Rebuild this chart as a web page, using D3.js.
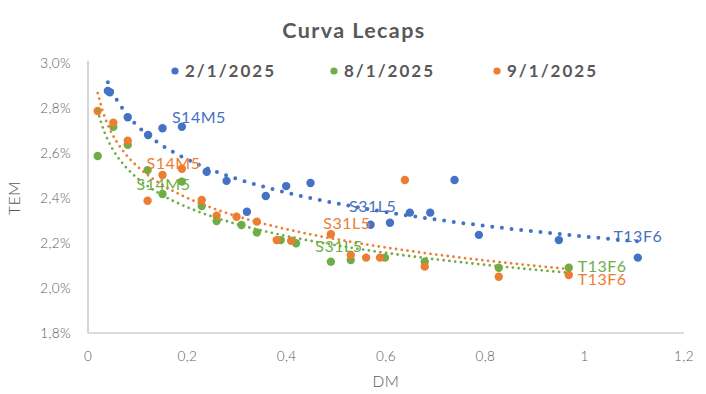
<!DOCTYPE html>
<html>
<head>
<meta charset="utf-8">
<script src="https://cdn.jsdelivr.net/npm/d3@7"></script>
<style>
  body { margin: 0; background: #fff; }
  svg { font-family: Lato, "Open Sans", sans-serif; }
</style>
</head>
<body>
<svg id="drawing_region" width="706" height="394"></svg>
<script>
// DM (x) and TEM in % (y) per fecha
const seriesNames = ["2/1/2025", "8/1/2025", "9/1/2025"];

const dm_0201 = [0.040, 0.044, 0.080, 0.121, 0.150, 0.189, 0.239, 0.279, 0.320, 0.358, 0.399, 0.448, 0.569, 0.608, 0.648, 0.689, 0.738, 0.787, 0.948, 1.107];
const tem_0201 = [2.876, 2.870, 2.759, 2.680, 2.710, 2.717, 2.517, 2.476, 2.339, 2.409, 2.453, 2.467, 2.281, 2.290, 2.335, 2.335, 2.480, 2.236, 2.213, 2.135];

const dm_0801 = [0.0195, 0.051, 0.080, 0.120, 0.150, 0.189, 0.229, 0.259, 0.309, 0.340, 0.388, 0.419, 0.489, 0.529, 0.598, 0.678, 0.827, 0.968];
const tem_0801 = [2.587, 2.717, 2.636, 2.524, 2.418, 2.473, 2.364, 2.298, 2.280, 2.247, 2.213, 2.199, 2.117, 2.124, 2.135, 2.117, 2.090, 2.090];

const dm_0901 = [0.0195, 0.051, 0.080, 0.120, 0.150, 0.189, 0.229, 0.259, 0.299, 0.340, 0.380, 0.409, 0.489, 0.529, 0.560, 0.588, 0.638, 0.678, 0.827, 0.968];
const tem_0901 = [2.787, 2.735, 2.655, 2.388, 2.502, 2.530, 2.391, 2.321, 2.317, 2.295, 2.213, 2.210, 2.239, 2.147, 2.135, 2.135, 2.480, 2.095, 2.050, 2.058];

const xTicks = [0, 0.2, 0.4, 0.6, 0.8, 1, 1.2];
const yTicks = [1.8, 2.0, 2.2, 2.4, 2.6, 2.8, 3.0];

// labelled points: series index, point index, ticker
const pointLabels = [
  [0, 5, "S14M5"], [0, 12, "S31L5"], [0, 19, "T13F6"],
  [1, 4, "S14M5"], [1, 12, "S31L5"], [1, 17, "T13F6"],
  [2, 4, "S14M5"], [2, 12, "S31L5"], [2, 19, "T13F6"]
];

const colors = ["#4472C4", "#70AD47", "#ED7D31"];
// label offsets (px) from the point, same order as pointLabels
const labelOffsets = [[17, -9], [2, -18], [0, -21], [1, -10], [8, -15], [32, -1], [11, -12], [16, -11], [32, 4]];

const series = [
  dm_0201.map((d, i) => ({x: d, y: tem_0201[i]})),
  dm_0801.map((d, i) => ({x: d, y: tem_0801[i]})),
  dm_0901.map((d, i) => ({x: d, y: tem_0901[i]}))
];

const svg = d3.select('#drawing_region');
const x = d3.scaleLinear().domain([0, 1.2]).range([88, 684]);
const y = d3.scaleLinear().domain([1.8, 3.0]).range([333, 63]);
const fmt = d => d3.format(".1f")(d).replace(".", ",");
const grey = "#595959";

// title
svg.append('text').attr('x', 354).attr('y', 38).attr('text-anchor', 'middle')
  .attr('font-size', 21.5).attr('font-weight', 'bold').attr('fill', grey)
  .attr('letter-spacing', 1.4).text("Curva Lecaps");

// axes lines
svg.append('line').attr('x1', 88).attr('x2', 88).attr('y1', 61).attr('y2', 333)
  .attr('stroke', '#bfbfbf').attr('stroke-width', 1.3);
svg.append('line').attr('x1', 88).attr('x2', 684).attr('y1', 333).attr('y2', 333)
  .attr('stroke', '#d0d0d0').attr('stroke-width', 1.3);

// tick labels
svg.selectAll('.ytick').data(yTicks).enter().append('text')
  .attr('x', 71).attr('y', d => y(d)).attr('dy', '0.35em').attr('text-anchor', 'end')
  .attr('font-size', 13.5).attr('font-weight', 300).attr('letter-spacing', 0.4)
  .attr('fill', grey).text(d => fmt(d) + "%");
svg.selectAll('.xtick').data(xTicks).enter().append('text')
  .attr('x', d => x(d)).attr('y', 361).attr('text-anchor', 'middle')
  .attr('font-size', 13.5).attr('font-weight', 300).attr('letter-spacing', 0.4)
  .attr('fill', grey).text(d => d === 0 || d === 1 ? String(d) : fmt(d));

svg.append('text').attr('transform', 'translate(20,198) rotate(-90)').attr('text-anchor', 'middle')
  .attr('font-size', 15.5).attr('font-weight', 300).attr('letter-spacing', 0.6)
  .attr('fill', grey).text("TEM");
svg.append('text').attr('x', 386).attr('y', 387).attr('text-anchor', 'middle')
  .attr('font-size', 15.5).attr('font-weight', 300).attr('letter-spacing', 0.6)
  .attr('fill', grey).text("DM");

// logarithmic trend lines (least squares on ln x)
function logFit(pts) {
  const lx = pts.map(p => Math.log(p.x));
  const mx = d3.mean(lx), my = d3.mean(pts, p => p.y);
  const b = d3.sum(pts, (p, i) => (lx[i] - mx) * (p.y - my)) / d3.sum(lx, v => (v - mx) * (v - mx));
  const a = my - b * mx;
  const [x0, x1] = d3.extent(pts, p => p.x);
  return d3.range(0, 101).map(k => {
    const xv = x0 + (x1 - x0) * k / 100;
    return {x: xv, y: a + b * Math.log(xv)};
  });
}
const line = d3.line().x(d => x(d.x)).y(d => y(d.y)).curve(d3.curveBasis);

// markers
series.forEach((pts, s) => {
  svg.append('g').selectAll('circle').data(pts).enter().append('circle')
    .attr('cx', d => x(d.x)).attr('cy', d => y(d.y)).attr('r', 4.2)
    .attr('fill', colors[s]);
});

const trendStyle = [[4, "0 9.7"], [2.8, "0 5.8"], [2.8, "0 5.8"]];
series.forEach((pts, s) => {
  svg.append('path').datum(logFit(pts)).attr('d', line)
    .attr('fill', 'none').attr('stroke', colors[s])
    .attr('stroke-width', trendStyle[s][0]).attr('stroke-linecap', 'round')
    .attr('stroke-dasharray', trendStyle[s][1]);
});

// data labels
svg.selectAll('.plabel').data(pointLabels).enter().append('text')
  .attr('x', (d, i) => x(series[d[0]][d[1]].x) + labelOffsets[i][0])
  .attr('y', (d, i) => y(series[d[0]][d[1]].y) + labelOffsets[i][1])
  .attr('dy', '0.35em').attr('text-anchor', (d, i) => labelOffsets[i][0] > 25 ? 'start' : 'middle')
  .attr('dx', (d, i) => labelOffsets[i][0] > 25 ? -23 : 0)
  .attr('font-size', 16).attr('letter-spacing', 0.5)
  .attr('fill', d => colors[d[0]]).text(d => d[2]);

// legend
const legendX = [175, 334, 497];
seriesNames.forEach((n, s) => {
  svg.append('circle').attr('cx', legendX[s]).attr('cy', 71).attr('r', 3.6).attr('fill', colors[s]);
  svg.append('text').attr('x', legendX[s] + 10).attr('y', 71).attr('dy', '0.35em')
    .attr('font-size', 17).attr('font-weight', 'bold').attr('fill', grey)
    .attr('letter-spacing', 2).text(n);
});
</script>
</body>
</html>
